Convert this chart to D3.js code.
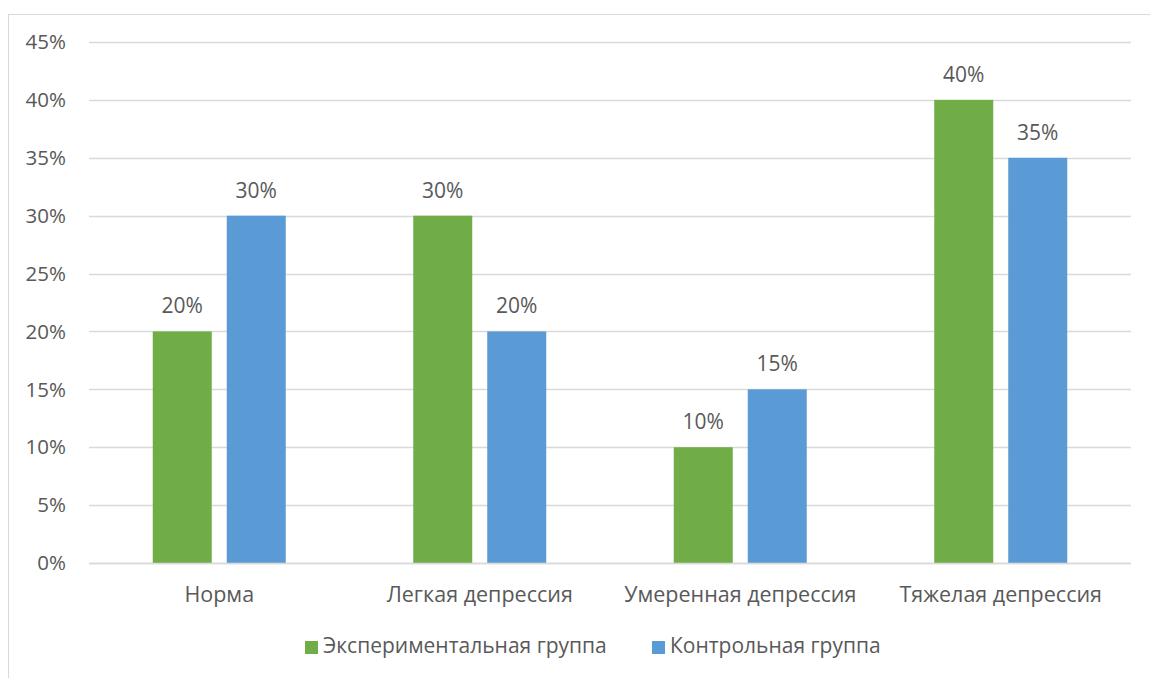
<!DOCTYPE html>
<html>
<head>
<meta charset="utf-8">
<script src="https://cdn.jsdelivr.net/npm/d3@7"></script>
<style>
  html, body { margin: 0; padding: 0; background: #fff; }
  svg text { font-family: "Open Sans", "Noto Sans", sans-serif; fill: #595959; }
</style>
</head>
<body>
<svg id="chart" width="1150" height="678"></svg>
<script>
// Depression levels by group
const categories = ["Норма", "Легкая депрессия", "Умеренная депрессия", "Тяжелая депрессия"];
const seriesNames = ["Экспериментальная группа", "Контрольная группа"];
const experimental = [20, 30, 10, 40];
const control = [30, 20, 15, 35];
const yTicks = [0, 5, 10, 15, 20, 25, 30, 35, 40, 45];
const colors = ["#70AD47", "#5B9BD5"];

const seriesValues = [experimental, control];
const svg = d3.select("#chart");

// outer chart frame
svg.append("rect")
  .attr("x", 8.5).attr("y", 14.5)
  .attr("width", 1160).attr("height", 700)
  .attr("fill", "none").attr("stroke", "#d9d9d9").attr("stroke-width", 1);

const plot = { left: 89, right: 1131, top: 42, bottom: 563 };

const y = d3.scaleLinear().domain([0, 45]).range([plot.bottom, plot.top]);
const x0 = d3.scaleBand().domain(categories).range([plot.left, plot.right]).padding(0);
const groupOffset = 63.75;
const x1 = d3.scaleBand().domain(seriesNames)
  .range([groupOffset, x0.bandwidth() - groupOffset])
  .paddingInner(15 / 74).paddingOuter(0);

// gridlines
svg.append("g")
  .selectAll("line")
  .data(yTicks)
  .join("line")
  .attr("x1", plot.left).attr("x2", plot.right)
  .attr("y1", d => Math.round(y(d)) + 0.5).attr("y2", d => Math.round(y(d)) + 0.5)
  .attr("stroke", "#d9d9d9").attr("stroke-width", 1.3);

// y axis labels
svg.append("g")
  .selectAll("text")
  .data(yTicks)
  .join("text")
  .attr("x", 66).attr("y", d => y(d))
  .attr("dy", "0.35em")
  .attr("text-anchor", "end")
  .style("font-size", "20.5px")
  .text(d => d + "%");

// bars
const groups = svg.append("g")
  .selectAll("g")
  .data(categories)
  .join("g")
  .attr("transform", c => `translate(${x0(c)},0)`);

groups.selectAll("rect")
  .data((c, i) => seriesNames.map((s, j) => ({ s, j, v: seriesValues[j][i] })))
  .join("rect")
  .attr("x", d => x1(d.s))
  .attr("width", x1.bandwidth())
  .attr("y", d => y(d.v))
  .attr("height", d => y(0) - y(d.v))
  .attr("fill", d => colors[d.j]);

// value labels
groups.selectAll("text.val")
  .data((c, i) => seriesNames.map((s, j) => ({ s, j, v: seriesValues[j][i] })))
  .join("text")
  .attr("class", "val")
  .attr("x", d => x1(d.s) + x1.bandwidth() / 2)
  .attr("y", d => y(d.v) - 18)
  .attr("text-anchor", "middle")
  .style("font-size", "21px")
  .text(d => d.v + "%");

// baseline
svg.append("line")
  .attr("x1", plot.left).attr("x2", plot.right)
  .attr("y1", y(0) + 0.5).attr("y2", y(0) + 0.5)
  .attr("stroke", "#d9d9d9").attr("stroke-width", 1.3);

// category labels
svg.append("g")
  .selectAll("text")
  .data(categories)
  .join("text")
  .attr("x", c => x0(c) + x0.bandwidth() / 2)
  .attr("y", 602)
  .attr("text-anchor", "middle")
  .style("font-size", "21.5px")
  .text(c => c);

// legend
const legend = svg.append("g");
const legendX = [305, 652];
seriesNames.forEach((s, j) => {
  const g = legend.append("g").attr("transform", `translate(${legendX[j]},0)`);
  g.append("rect").attr("x", 0).attr("y", 641).attr("width", 13).attr("height", 13).attr("fill", colors[j]);
  g.append("text").attr("x", 18).attr("y", 653)
    .style("font-size", "21px").text(s);
});
</script>
</body>
</html>
